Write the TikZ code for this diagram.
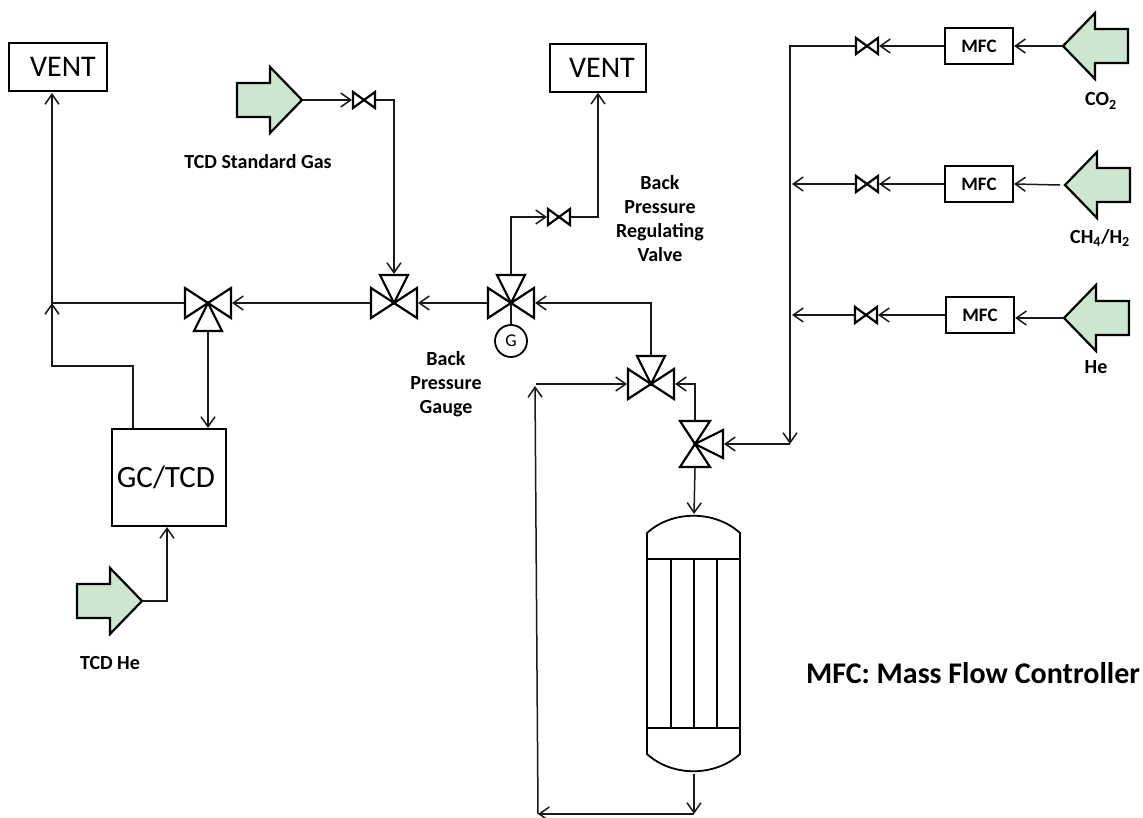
\documentclass[tikz,border=0pt]{standalone}
\usepackage{fontspec}
\usepackage{tikz}
\usetikzlibrary{arrows.meta}
\setmainfont{Carlito}

\definecolor{feedgreen}{RGB}{205,230,208}

\tikzset{
  >={Straight Barb[length=10pt,width=14pt,line width=1.5pt]},
  pipe/.style={draw=black!90,line width=1.5pt},
  valve/.style={draw=black,line width=2.2pt,fill=white,line join=miter},
  feed/.style={draw=black,line width=2.2pt,fill=feedgreen,line join=miter},
  txt/.style={font=\bfseries\fontsize{20}{24}\selectfont,align=center,inner sep=0pt},
  bigbox/.style={draw=black,line width=1.5pt,inner sep=0pt,font=\fontsize{30}{30}\selectfont},
  mfcbox/.style={draw=black,line width=2.2pt,inner sep=0pt,minimum width=68pt,minimum height=36pt,font=\bfseries\fontsize{19}{20}\selectfont}
}

\begin{document}
\begin{tikzpicture}[x=1pt,y=-1pt]
\useasboundingbox (0,0) rectangle (1143,818);

% Feed gas arrows
\foreach \fname/\fx/\fy/\fdir in {fstd/302/100/1,fhe/142/601/1,fco/1063/46/-1,fch/1065/185/-1,ffe/1064/318/-1} {
  \draw[feed,shift={(\fx,\fy)},xscale=\fdir] (0,0) -- (-32,-33) -- (-32,-17) -- (-65,-17) -- (-65,17) -- (-32,17) -- (-32,33) -- cycle;
  \coordinate (\fname) at (\fx,\fy);
}

% Three way valves, the third arm is on top before the rotation
\foreach \vname/\vx/\vy/\vrot in {va/208/303/180,vb/394/303/0,vc/511/303/0,vd/651/384/0,ve/695/444/-90} {
  \begin{scope}[shift={(\vx,\vy)},rotate=\vrot]
    \draw[valve] (0,0) -- (-23,-15) -- (-23,15) -- cycle;
    \draw[valve] (0,0) -- (23,-15) -- (23,15) -- cycle;
    \draw[valve] (0,0) -- (-14,-28) -- (14,-28) -- cycle;
    \coordinate (\vname-o) at (0,0);
    \coordinate (\vname-l) at (-24,0);
    \coordinate (\vname-r) at (24,0);
    \coordinate (\vname-t) at (0,-29);
  \end{scope}
}

% Needle valves
\foreach \sname/\sx/\sy in {sa/364/100,sb/559/217,sc/867/46,sd/867/184,se/866/315} {
  \begin{scope}[shift={(\sx,\sy)}]
    \draw[valve] (0,0) -- (-11,-8) -- (-11,8) -- cycle;
    \draw[valve] (0,0) -- (11,-8) -- (11,8) -- cycle;
    \coordinate (\sname-l) at (-12,0);
    \coordinate (\sname-r) at (12,0);
  \end{scope}
}

% Boxes
\node[bigbox,minimum width=98pt,minimum height=48pt] (ventl) at (58,67) {\hspace*{10pt}VENT};
\node[bigbox,minimum width=96pt,minimum height=48pt] (ventr) at (598,68) {\hspace*{8pt}VENT};
\node[bigbox,minimum width=114pt,minimum height=97pt,font=\fontsize{31}{32}\selectfont] (gc) at (169,477.5) {GC/TCD\hspace*{6pt}};
\node[mfcbox] (mfca) at (979,46) {MFC};
\node[mfcbox] (mfcb) at (979,184) {MFC};
\node[mfcbox] (mfcc) at (980,315) {MFC};
\node[draw=black,line width=1.8pt,circle,minimum size=32pt,inner sep=0pt,font=\fontsize{18}{18}\selectfont] (gauge) at (511,341) {G};

% Reactor
\draw[black,line width=1.8pt] (647,533) .. controls (672,510) and (715,510) .. (740,533) -- (740,754) .. controls (715,777) and (672,777) .. (647,754) -- cycle;
\draw[black,line width=1.8pt] (647,559) -- (740,559);
\draw[black,line width=1.8pt] (647,728) -- (740,728);
\foreach \tx in {671,694,717} {
  \draw[black,line width=1.8pt] (\tx,559) -- (\tx,728);
}
\coordinate (rtop) at (694,514);
\coordinate (rbot) at (694,774);

% Corner points
\coordinate (lmid) at (52,303);
\coordinate (lcor) at (52,366);
\coordinate (gcor) at (133,366);
\coordinate (gtop) at (133,429);
\coordinate (blft) at (538,814);
\coordinate (brgt) at (694,814);
\coordinate (bup) at (535,386);
\coordinate (bst) at (536,384);
\coordinate (mtop) at (790,46);
\coordinate (mbot) at (790,444);
\coordinate (mmid) at (792,184);
\coordinate (mlow) at (792,315);
\coordinate (fchl) at (1060,185);

% Left side
\draw[pipe,->] (va-r) -- (lmid) -- (52,93);
\draw[pipe,->] (gtop) -- (gcor) -- (lcor) -- (lmid);
\draw[pipe,->] (va-t) -- (208,428);
\draw[pipe,->] (fhe) -- (167,601) -- (167,527);
\draw[pipe,->] (vb-l) -- (va-l);
\draw[pipe,->] (vc-l) -- (vb-r);

% Standard gas
\draw[pipe,->] (fstd) -- (sa-l);
\draw[pipe,->] (sa-r) -- (394,100) -- (vb-t);

% Back pressure regulator
\draw[pipe] (vc-o) -- (gauge.north);
\draw[pipe,->] (vc-t) -- (511,217) -- (sb-l);
\draw[pipe,->] (sb-r) -- (598,217) -- (ventr.south);

% Reactor loop
\draw[pipe,->] (vd-t) -- (651,303) -- (vc-r);
\draw[pipe,->] (ve-l) -- (695,384) -- (vd-r);
\draw[pipe,->] (ve-r) -- (rtop);
\draw[pipe,->] (rbot) -- (brgt);
\draw[pipe,->] (brgt) -- (blft);
\draw[pipe,->] (blft) -- (bup);
\draw[pipe,->] (bst) -- (vd-l);

% Gas header
\draw[pipe,->] (sc-l) -- (mtop) -- (mbot);
\draw[pipe,->] (mbot) -- (ve-t);
\draw[pipe,->] (sd-l) -- (mmid);
\draw[pipe,->] (se-l) -- (mlow);

% MFC lines
\draw[pipe,->] (fco) -- (mfca.east);
\draw[pipe,->] (fchl) -- (mfcb.east);
\draw[pipe,->] (ffe) -- (mfcc.east |- ffe);
\draw[pipe,->] (mfca.west) -- (sc-r);
\draw[pipe,->] (mfcb.west) -- (sd-r);
\draw[pipe,->] (mfcc.west) -- (se-r);

% Labels
\node[txt] (lstd) at (258,162) {TCD Standard Gas};
\node[txt] (lhe) at (110,663) {TCD He};
\node[txt] (lgauge) at (446,384) {Back\\Pressure\\Gauge};
\node[txt] (lreg) at (660,219) {Back\\Pressure\\Regulating\\Valve};
\node[txt] (lco) at (1101,101) {CO\textsubscript{2}};
\node[txt] (lch) at (1100,238) {CH\textsubscript{4}/H\textsubscript{2}};
\node[txt] (lfe) at (1096,367) {He};
\node[txt,font=\bfseries\fontsize{30}{32}\selectfont] (lmfc) at (973,673) {MFC: Mass Flow Controller};

\end{tikzpicture}
\end{document}
